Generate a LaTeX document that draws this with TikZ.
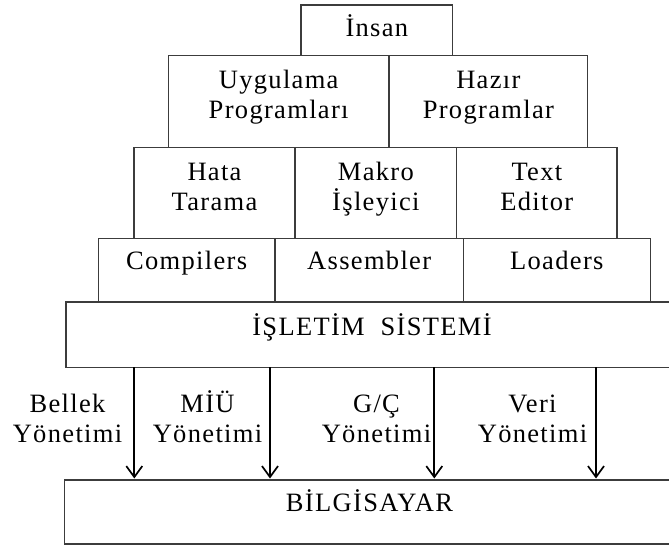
\documentclass[tikz,border=0pt]{standalone}
\usepackage{fontspec}
\setmainfont{Liberation Serif}[LetterSpace=5]
\usetikzlibrary{arrows.meta}
\definecolor{linegray}{HTML}{3C3C3C}
\begin{document}
\begin{tikzpicture}[x=1pt,y=-1pt,
  box/.style={draw=linegray, line width=1.3pt, inner sep=0pt, outer sep=0pt},
  txt/.style={font=\fontsize{26.5}{30}\selectfont, align=center, inner sep=0pt, anchor=base, text=black},
  arr/.style={draw=black, line width=1.7pt, -{Straight Barb[length=11pt,width=16pt,line width=1.7pt]}, shorten >=1.5pt}]
\useasboundingbox (0,0) rectangle (669,546);
\fill[white] (0,0) rectangle (669,546);
% boxes
\node[box, minimum width=151.7pt, minimum height=50.5pt] (insan) at (376.85,30.25) {};
\node[box, minimum width=220.7pt, minimum height=92pt] (uyg) at (278.65,101.5) {};
\node[box, minimum width=198.7pt, minimum height=92pt] (hazir) at (488.35,101.5) {};
\node[box, minimum width=161pt, minimum height=90.8pt] (hata) at (214.5,192.9) {};
\node[box, minimum width=161.7pt, minimum height=90.8pt] (makro) at (375.85,192.9) {};
\node[box, minimum width=160.3pt, minimum height=90.8pt] (texted) at (536.85,192.9) {};
\node[box, minimum width=176.7pt, minimum height=63.7pt] (comp) at (186.65,270.15) {};
\node[box, minimum width=188.3pt, minimum height=63.7pt] (asm) at (369.15,270.15) {};
\node[box, minimum width=187pt, minimum height=63.7pt] (load) at (556.8,270.15) {};
\node[box, minimum width=609pt, minimum height=65.3pt] (isletim) at (370.5,334.65) {};
\node[box, minimum width=610.3pt, minimum height=64pt] (bilg) at (369.85,512) {};
% texts
\node[txt] (tinsan) at (376.85,36.7) {İnsan};
\node[txt] (tuyg) at (278.65,118.5) {Uygulama\\Programları};
\node[txt] (thazir) at (488.35,118.5) {Hazır\\Programlar};
\node[txt] (thata) at (214.5,210) {Hata\\Tarama};
\node[txt] (tmakro) at (375.85,210) {Makro\\İşleyici};
\node[txt] (ttext) at (536.85,210) {Text\\Editor};
\node[txt] (tcomp) at (186.65,269.5) {Compilers};
\node[txt] (tasm) at (369.15,269.5) {Assembler};
\node[txt] (tload) at (556.8,269.5) {Loaders};
\node[txt] (tisletim) at (372,335) {İŞLETİM\ \ SİSTEMİ};
\node[txt] (tbilg) at (369.5,511.7) {BİLGİSAYAR};
% arrows
\coordinate (a1) at (134.3,367.3);
\coordinate (a2) at (270,367.3);
\coordinate (a3) at (434.3,367.3);
\coordinate (a4) at (596,367.3);
\draw[arr] (a1) -- (a1 |- bilg.north);
\draw[arr] (a2) -- (a2 |- bilg.north);
\draw[arr] (a3) -- (a3 |- bilg.north);
\draw[arr] (a4) -- (a4 |- bilg.north);
% arrow labels
\node[txt] (lbellek) at (67.5,442) {Bellek\\Yönetimi};
\node[txt] (lmiu) at (207.5,442) {MİÜ\\Yönetimi};
\node[txt] (lgc) at (376.5,442) {G/Ç\\Yönetimi};
\node[txt] (lveri) at (532.5,442) {Veri\\Yönetimi};
\end{tikzpicture}
\end{document}
